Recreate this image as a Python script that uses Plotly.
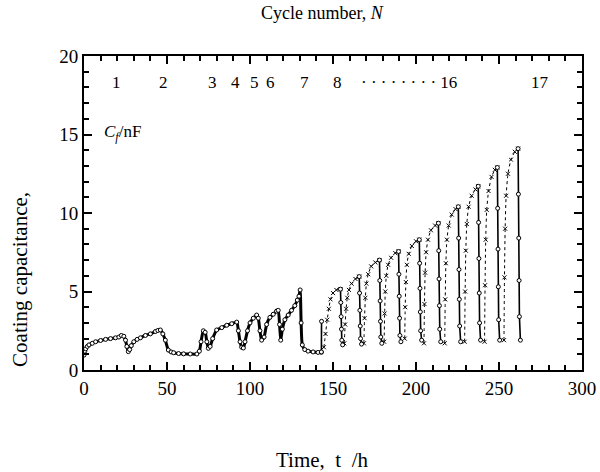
import plotly.graph_objects as go

# ---------------- data ----------------
# cycles 1-7 and the dry interval (continuous dense record)
early_t = [0, 0.5, 1, 2, 3, 5, 7, 10, 13, 16, 19, 21, 22.5, 24, 25, 25.8, 26.7, 27.5,
           28.5, 30, 32, 34, 37, 40, 43, 44.5, 46, 47.5, 49, 50.8, 52.5, 54, 57, 60,
           64, 68, 69.5, 70.5, 71.9, 73, 74, 74.9, 76, 77.5, 79.9, 83, 86, 89, 92,
           93, 94, 95, 96, 97, 98.5, 100, 102, 104, 105, 106, 107, 108.5, 110, 112,
           114, 116, 117, 117.8, 118.5, 119.5, 121, 123, 125, 127, 128.5, 129.5,
           130.2, 130.8, 131.5, 133, 135, 138, 141, 143]
early_c = [0.95, 1.2, 1.35, 1.5, 1.6, 1.7, 1.8, 1.88, 1.95, 2.0, 2.05, 2.1, 2.2, 2.15,
           1.9, 1.5, 1.17, 1.3, 1.55, 1.8, 1.95, 2.05, 2.2, 2.3, 2.45, 2.52, 2.55, 2.3,
           1.9, 1.27, 1.15, 1.1, 1.05, 1.03, 1.02, 1.02, 1.2, 1.8, 2.5, 2.4, 1.8, 1.38,
           1.5, 2.0, 2.55, 2.7, 2.85, 2.95, 3.05, 2.5, 1.8, 1.45, 1.4, 1.8, 2.5, 3.0,
           3.3, 3.5, 3.3, 2.5, 1.9, 2.1, 2.9, 3.35, 3.55, 3.75, 3.8, 2.9, 1.9, 2.6,
           3.2, 3.5, 3.8, 4.1, 4.45, 4.7, 5.1, 3.0, 1.6, 1.3, 1.2, 1.15, 1.12, 1.13]

# cycles 8-17: wetting (rise) and drying (fall) branches, one list per cycle
rise_t = [[144.5, 145.5, 146.5, 147.5, 148.5, 150.0, 152.0, 154.5],
          [156.8, 157.3, 157.9, 158.6, 159.6, 161.2, 163.5, 165.8],
          [168.6, 169.0, 169.5, 170.1, 171.2, 173.0, 175.5, 178.0],
          [180.8, 181.1, 181.5, 182.1, 183.2, 185.0, 187.5, 189.5],
          [193.2, 193.5, 193.9, 194.5, 195.6, 197.5, 200.0, 202.0],
          [204.8, 205.1, 205.5, 206.1, 207.2, 209.0, 211.5, 213.5],
          [217.3, 217.6, 218.0, 218.6, 219.7, 221.5, 223.8, 225.5],
          [229.3, 229.6, 230.0, 230.6, 231.7, 233.5, 235.8, 237.5],
          [241.3, 241.6, 242.0, 242.6, 243.7, 245.5, 247.5, 249.0],
          [253.0, 253.3, 253.7, 254.3, 255.4, 257.2, 259.5, 261.5]]
rise_c = [[1.45, 2.3, 3.2, 3.9, 4.5, 4.9, 5.1, 5.15],
          [1.7, 2.9, 3.9, 4.6, 5.1, 5.5, 5.8, 5.95],
          [1.7, 3.3, 4.6, 5.5, 6.1, 6.6, 6.85, 7.0],
          [1.8, 3.6, 5.0, 6.0, 6.7, 7.15, 7.45, 7.55],
          [2.0, 4.0, 5.6, 6.7, 7.4, 7.9, 8.2, 8.3],
          [1.7, 4.2, 6.2, 7.5, 8.3, 8.9, 9.2, 9.35],
          [1.7, 4.5, 6.8, 8.3, 9.2, 9.9, 10.25, 10.4],
          [1.8, 5.0, 7.6, 9.3, 10.4, 11.1, 11.5, 11.7],
          [1.8, 5.4, 8.3, 10.2, 11.4, 12.3, 12.75, 12.9],
          [1.9, 5.9, 9.0, 11.1, 12.5, 13.4, 13.9, 14.1]]
fall_t = [[143.0, 143.1],
          [154.5, 154.7, 154.9, 155.1, 155.3, 155.8],
          [165.8, 166.0, 166.2, 166.4, 166.6, 167.2],
          [178.0, 178.2, 178.4, 178.6, 178.8, 179.4],
          [189.5, 189.7, 189.9, 190.1, 190.3, 190.9],
          [202.0, 202.2, 202.4, 202.6, 202.8, 203.4],
          [213.5, 213.7, 213.9, 214.1, 214.3, 214.9],
          [225.5, 225.7, 225.9, 226.1, 226.3, 226.9],
          [237.5, 237.7, 237.9, 238.1, 238.3, 238.9],
          [249.0, 249.2, 249.4, 249.6, 249.8, 250.4],
          [261.5, 261.7, 261.9, 262.1, 262.3, 262.9]]
fall_c = [[1.15, 3.1],
          [5.15, 4.3, 3.4, 2.6, 1.9, 1.6],
          [5.95, 4.9, 3.8, 2.8, 2.0, 1.65],
          [7.0, 5.7, 4.4, 3.1, 2.1, 1.7],
          [7.55, 6.1, 4.7, 3.3, 2.2, 1.8],
          [8.3, 6.8, 5.2, 3.7, 2.5, 1.9],
          [9.35, 7.6, 5.8, 4.1, 2.6, 1.8],
          [10.4, 8.4, 6.4, 4.5, 2.8, 1.8],
          [11.7, 9.4, 7.1, 4.9, 3.0, 1.9],
          [12.9, 10.3, 7.7, 5.3, 3.2, 1.9],
          [14.1, 11.2, 8.4, 5.7, 3.4, 1.9]]

cycle_labels = ["1", "2", "3", "4", "5", "6", "7", "8", "17"]
cycle_label_t = [19.5, 47.6, 77.7, 91, 103, 112.5, 133, 153, 274.7]
label_level = 18.3


def join(groups):
    out = []
    for g in groups:
        out += list(g) + [None]
    return out


FONT = "Liberation Serif"
fig = go.Figure()

fig.add_trace(go.Scatter(
    x=early_t, y=early_c, mode="lines+markers",
    line=dict(color="black", width=3, shape="spline", smoothing=0.6),
    marker=dict(symbol="circle", size=4, color="white",
                line=dict(color="black", width=1)),
    showlegend=False))

fig.add_trace(go.Scatter(
    x=join(rise_t), y=join(rise_c), mode="lines+markers",
    line=dict(color="black", width=1, dash="dot", shape="spline", smoothing=0.5),
    marker=dict(symbol="x-thin-open", size=4, line=dict(color="black", width=1)),
    connectgaps=False, showlegend=False))

fig.add_trace(go.Scatter(
    x=join(fall_t), y=join(fall_c), mode="lines+markers",
    line=dict(color="black", width=1.6),
    marker=dict(symbol="circle", size=4, color="white",
                line=dict(color="black", width=1)),
    connectgaps=False, showlegend=False))

annotations = []
for lab, t in zip(cycle_labels, cycle_label_t):
    annotations.append(dict(x=t, y=label_level, xref="x", yref="y", text=lab,
                            xanchor="center", yanchor="middle",
                            showarrow=False, font=dict(family=FONT, size=17, color="black")))
annotations.append(dict(x=165.5, y=label_level, xref="x", yref="y", xanchor="left",
                        yanchor="middle",
                        text="· · · · · · · · 16", showarrow=False,
                        font=dict(family=FONT, size=17, color="black")))
annotations += [
    dict(x=0.478, y=1.137, xref="paper", yref="paper", text="Cycle number, <i>N</i>",
         xanchor="center", yanchor="middle",
         showarrow=False, font=dict(family=FONT, size=18, color="black")),
    dict(x=0.478, y=-0.287, xref="paper", yref="paper", text="Time,  t  /h",
         xanchor="center", yanchor="middle",
         showarrow=False, font=dict(family=FONT, size=21, color="black")),
    dict(x=-0.1285, y=0.287, xref="paper", yref="paper", text="Coating capacitance,",
         xanchor="center", yanchor="middle",
         textangle=-90, showarrow=False, font=dict(family=FONT, size=21, color="black")),
    dict(x=0.078, y=0.755, xref="paper", yref="paper",
         text="<i>C</i><sub><i>f</i></sub>/nF",
         xanchor="center", yanchor="middle",
         showarrow=False, font=dict(family=FONT, size=17, color="black")),
]

axis_common = dict(showgrid=False, zeroline=False, showline=True, linecolor="black",
                   linewidth=2, mirror="ticks", ticks="inside", tickcolor="black",
                   tickwidth=2, ticklen=8, automargin=False,
                   tickfont=dict(family=FONT, size=19, color="black"))

fig.update_xaxes(range=[0, 300], tick0=0, dtick=50,
                 minor=dict(dtick=10, ticks="inside", ticklen=5, tickcolor="black", tickwidth=2),
                 **axis_common)
fig.update_yaxes(range=[0, 20], tick0=0, dtick=5,
                 minor=dict(dtick=1, ticks="inside", ticklen=5, tickcolor="black", tickwidth=2),
                 **axis_common)

fig.update_layout(width=600, height=472, margin=dict(l=84, r=18, t=56, b=102),
                  paper_bgcolor="white", plot_bgcolor="white",
                  font=dict(family=FONT, color="black"),
                  annotations=annotations, showlegend=False)

fig.write_html("out.html", config={"displayModeBar": False},
               post_script="document.body.style.margin='0';"
                           "document.body.style.overflow='hidden';")
